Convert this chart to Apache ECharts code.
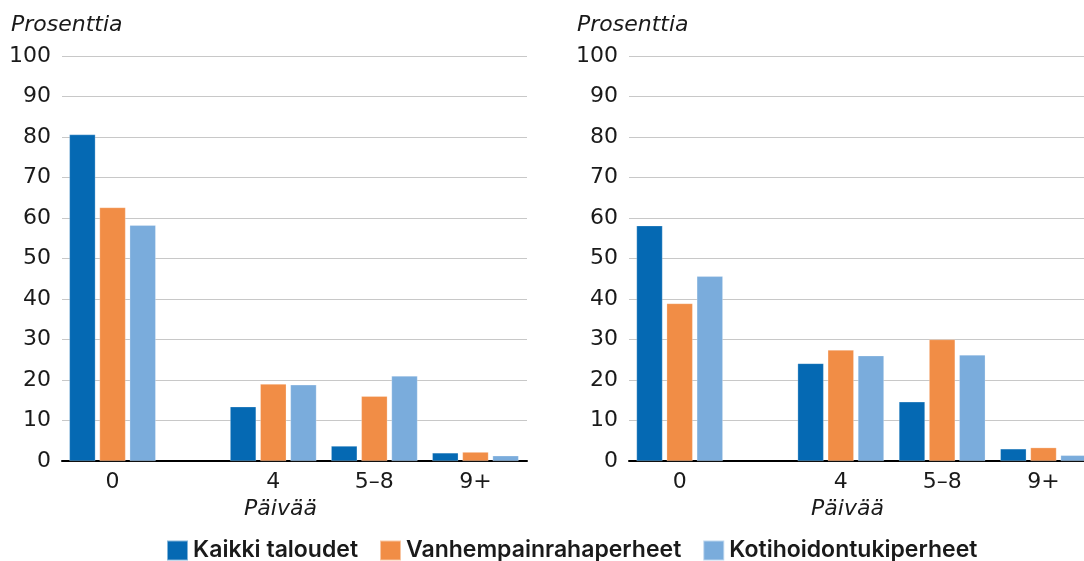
<!DOCTYPE html>
<html><head><meta charset="utf-8">
<script src="https://cdn.jsdelivr.net/npm/echarts@6/dist/echarts.min.js"></script>
<style>html,body{margin:0;padding:0;background:#fff}#c{width:1084px;height:561px}</style>
</head><body><div id="c"></div>
<script>
// ---- data ----
const categories = ['0', '4', '5–8', '9+'];
const seriesNames = ['Kaikki taloudet', 'Vanhempainrahaperheet', 'Kotihoidontukiperheet'];
const leftKaikki = [80.6, 13.4, 3.7, 2.0];
const leftVanhempain = [62.6, 19.0, 16.0, 2.2];
const leftKoti = [58.2, 18.8, 21.0, 1.3];
const rightKaikki = [58.1, 24.1, 14.6, 3.0];
const rightVanhempain = [38.9, 27.4, 30.0, 3.3];
const rightKoti = [45.6, 26.0, 26.2, 1.4];
const yTicks = [0, 10, 20, 30, 40, 50, 60, 70, 80, 90, 100];
const yAxisTitle = 'Prosenttia';
const xAxisTitle = 'Päivää';

// ---- layout of the day axis (gap between 0 and 4) ----
const catPos = [0.5, 2.09, 3.09, 4.09];
const axisMaxLeft = 4.6;   // full panel
const axisMaxRight = 4.49; // right panel is cut off at the picture edge

const colors = ['#0569b3', '#f18d46', '#7aacdc'];
const FONT = '"DejaVu Sans", sans-serif';
const LFONT = 'Inter, "DejaVu Sans", sans-serif';
const TXT = '#1a1a1a';

const chart = echarts.init(document.getElementById('c'), null, {renderer: 'canvas'});

function xAxisFor(gi, maxV, namePad) {
  return {
    type: 'value', gridIndex: gi, min: 0, max: maxV,
    axisLine: {show: true, onZero: false, lineStyle: {color: '#000', width: 2}},
    axisTick: {show: false},
    splitLine: {show: false},
    axisLabel: {
      customValues: catPos, margin: 10,
      fontSize: 22, color: TXT, fontFamily: FONT,
      formatter: v => { const i = catPos.findIndex(p => Math.abs(p - v) < 1e-6); return i >= 0 ? categories[i] : ''; }
    },
    name: xAxisTitle, nameLocation: 'middle', nameGap: 36,
    nameTextStyle: {fontSize: 22, fontStyle: 'italic', color: TXT, fontFamily: FONT, padding: namePad}
  };
}
function yAxisFor(gi) {
  return {
    type: 'value', gridIndex: gi, min: yTicks[0], max: yTicks[yTicks.length - 1], interval: 10,
    axisLine: {show: false}, axisTick: {show: false},
    splitLine: {show: true, lineStyle: {color: '#c8c8c8', width: 1}},
    axisLabel: {fontSize: 22, color: TXT, fontFamily: FONT, margin: 11}
  };
}
function barSeries(name, vals, gi, ci) {
  return {
    type: 'bar', name: name, xAxisIndex: gi, yAxisIndex: gi,
    barWidth: 26, barGap: '16%',
    itemStyle: {color: colors[ci], borderColor: 'rgba(255,255,255,0.5)', borderWidth: 0.5},
    data: vals.map((v, i) => [catPos[i], v])
  };
}

chart.setOption({
  animation: false,
  textStyle: {fontFamily: FONT},
  title: [
    {text: yAxisTitle, left: 6, top: 9, textStyle: {fontSize: 22, fontStyle: 'italic', fontWeight: 'normal', color: TXT, fontFamily: FONT}},
    {text: yAxisTitle, left: 572, top: 9, textStyle: {fontSize: 22, fontStyle: 'italic', fontWeight: 'normal', color: TXT, fontFamily: FONT}}
  ],
  legend: {
    data: seriesNames, left: 161, top: 536, padding: [3, 5, 3, 5],
    icon: 'rect', itemWidth: 21, itemHeight: 20, itemGap: 21,
    textStyle: {fontSize: 23, fontWeight: 600, color: TXT, fontFamily: LFONT}
  },
  grid: [
    {left: 62, top: 56, width: 465, height: 405},
    {left: 629, top: 56, right: 0, height: 405}
  ],
  xAxis: [xAxisFor(0, axisMaxLeft, [0, 28, 0, 0]), xAxisFor(1, axisMaxRight, [0, 18, 0, 0])],
  yAxis: [yAxisFor(0), yAxisFor(1)],
  series: [
    barSeries(seriesNames[0], leftKaikki, 0, 0),
    barSeries(seriesNames[1], leftVanhempain, 0, 1),
    barSeries(seriesNames[2], leftKoti, 0, 2),
    barSeries(seriesNames[0], rightKaikki, 1, 0),
    barSeries(seriesNames[1], rightVanhempain, 1, 1),
    barSeries(seriesNames[2], rightKoti, 1, 2)
  ]
});
</script></body></html>
